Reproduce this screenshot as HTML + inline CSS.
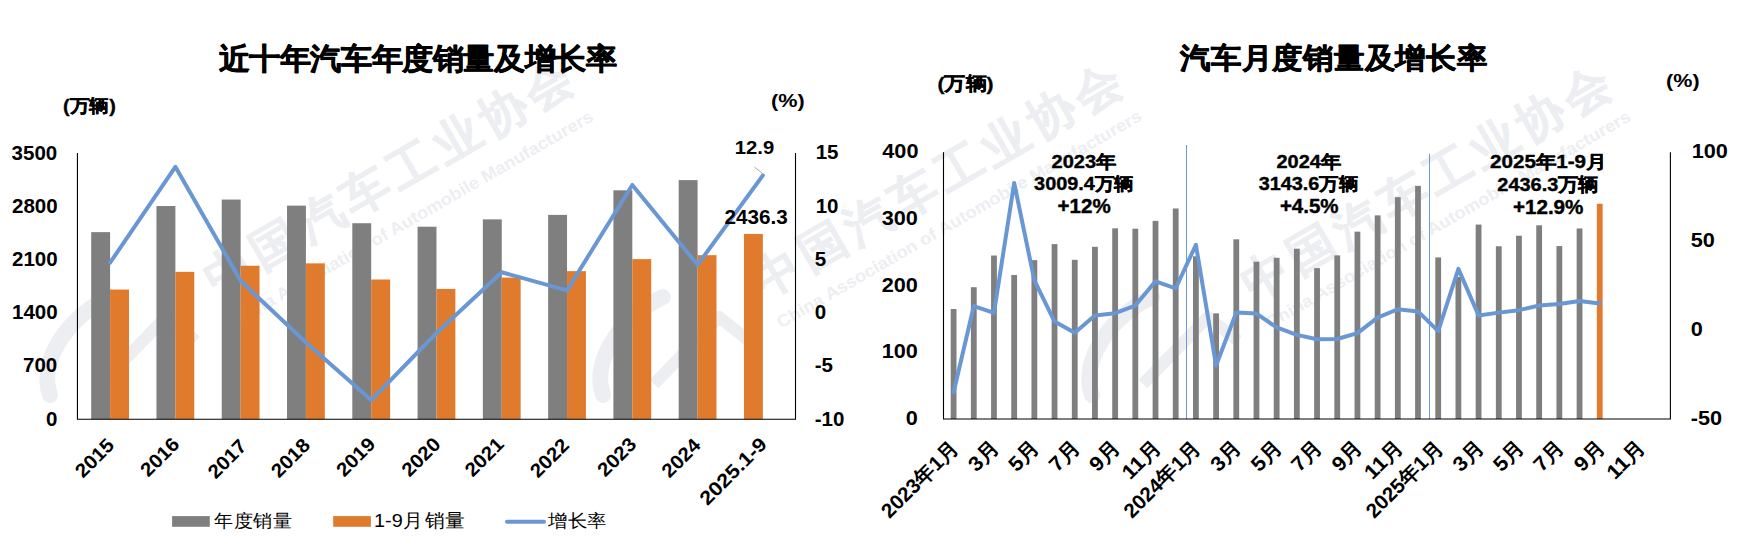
<!DOCTYPE html>
<html><head><meta charset="utf-8"><style>
html,body{margin:0;padding:0;background:#fff;}
svg{display:block;font-family:"Liberation Sans",sans-serif;}
</style></head><body>
<svg width="1762" height="554" viewBox="0 0 1762 554">
<g><text transform="translate(216.0,296.29999999999995) rotate(-30)" font-size="47" font-weight="bold" fill="#edeef2" stroke="#edeef2" stroke-width="0.6" textLength="417" lengthAdjust="spacing">中国汽车工业协会</text>
<text transform="translate(232.5,329) rotate(-30)" font-size="17" font-weight="bold" fill="#edeef2" textLength="418" lengthAdjust="spacingAndGlyphs">China Association of Automobile Manufacturers</text>
<path d="M50,395 C37,359 72,314 110,297" fill="none" stroke="#edeef2" stroke-width="16" stroke-linecap="round"/>
<path d="M101,384 L166,317 L196,341" fill="none" stroke="#edeef2" stroke-width="12" stroke-linejoin="round"/>
<text transform="translate(764.1,298.9) rotate(-30)" font-size="47" font-weight="bold" fill="#edeef2" stroke="#edeef2" stroke-width="0.6" textLength="417" lengthAdjust="spacing">中国汽车工业协会</text>
<text transform="translate(781,328.5) rotate(-30)" font-size="17" font-weight="bold" fill="#edeef2" textLength="418" lengthAdjust="spacingAndGlyphs">China Association of Automobile Manufacturers</text>
<path d="M603,395 C590,359 625,314 663,297" fill="none" stroke="#edeef2" stroke-width="16" stroke-linecap="round"/>
<path d="M654,384 L719,317 L749,341" fill="none" stroke="#edeef2" stroke-width="12" stroke-linejoin="round"/>
<text transform="translate(1253.3000000000002,301.4) rotate(-30)" font-size="47" font-weight="bold" fill="#edeef2" stroke="#edeef2" stroke-width="0.6" textLength="417" lengthAdjust="spacing">中国汽车工业协会</text>
<text transform="translate(1270,329) rotate(-30)" font-size="17" font-weight="bold" fill="#edeef2" textLength="418" lengthAdjust="spacingAndGlyphs">China Association of Automobile Manufacturers</text>
<path d="M1092,395 C1079,359 1114,314 1152,297" fill="none" stroke="#edeef2" stroke-width="16" stroke-linecap="round"/>
<path d="M1143,384 L1208,317 L1238,341" fill="none" stroke="#edeef2" stroke-width="12" stroke-linejoin="round"/></g>
<rect x="91.19" y="232.13" width="18.90" height="187.12" fill="#7f7f7f"/>
<rect x="156.47" y="206.04" width="18.90" height="213.21" fill="#7f7f7f"/>
<rect x="221.74" y="199.56" width="18.90" height="219.69" fill="#7f7f7f"/>
<rect x="287.02" y="205.63" width="18.90" height="213.62" fill="#7f7f7f"/>
<rect x="352.30" y="223.22" width="18.90" height="196.03" fill="#7f7f7f"/>
<rect x="417.57" y="226.71" width="18.90" height="192.54" fill="#7f7f7f"/>
<rect x="482.85" y="219.37" width="18.90" height="199.88" fill="#7f7f7f"/>
<rect x="548.13" y="214.89" width="18.90" height="204.36" fill="#7f7f7f"/>
<rect x="613.41" y="190.32" width="18.90" height="228.93" fill="#7f7f7f"/>
<rect x="678.68" y="180.11" width="18.90" height="239.14" fill="#7f7f7f"/>
<rect x="110.09" y="289.55" width="18.90" height="129.70" fill="#e07b2d"/>
<rect x="175.37" y="271.88" width="18.90" height="147.37" fill="#e07b2d"/>
<rect x="240.64" y="265.74" width="18.90" height="153.51" fill="#e07b2d"/>
<rect x="305.92" y="263.37" width="18.90" height="155.88" fill="#e07b2d"/>
<rect x="371.20" y="279.50" width="18.90" height="139.75" fill="#e07b2d"/>
<rect x="436.47" y="288.95" width="18.90" height="130.30" fill="#e07b2d"/>
<rect x="501.75" y="277.57" width="18.90" height="141.68" fill="#e07b2d"/>
<rect x="567.03" y="271.14" width="18.90" height="148.11" fill="#e07b2d"/>
<rect x="632.31" y="259.12" width="18.90" height="160.13" fill="#e07b2d"/>
<rect x="697.58" y="255.16" width="18.90" height="164.09" fill="#e07b2d"/>
<rect x="743.96" y="233.92" width="18.90" height="185.33" fill="#e07b2d"/>
<polyline points="110.09,262.70 175.37,166.84 240.64,280.80 305.92,342.57 371.20,400.08 436.47,332.99 501.75,272.28 567.03,290.38 632.31,184.95 697.58,264.83 762.86,175.37" fill="none" stroke="#6897d3" stroke-width="4" stroke-linejoin="round" stroke-linecap="round"/>
<path d="M77.45,153.0 V419.25 H795.5 V153.0" fill="none" stroke="#000" stroke-width="1.1"/>
<line x1="754.4" y1="167" x2="762.8" y2="173.8" stroke="#a6a6a6" stroke-width="1"/>
<rect x="950.70" y="309.01" width="5.80" height="109.99" fill="#7f7f7f"/>
<rect x="970.89" y="287.20" width="5.80" height="131.80" fill="#7f7f7f"/>
<rect x="991.08" y="255.52" width="5.80" height="163.48" fill="#7f7f7f"/>
<rect x="1011.27" y="274.99" width="5.80" height="144.01" fill="#7f7f7f"/>
<rect x="1031.46" y="260.12" width="5.80" height="158.88" fill="#7f7f7f"/>
<rect x="1051.65" y="244.11" width="5.80" height="174.89" fill="#7f7f7f"/>
<rect x="1071.85" y="259.79" width="5.80" height="159.21" fill="#7f7f7f"/>
<rect x="1092.04" y="246.78" width="5.80" height="172.22" fill="#7f7f7f"/>
<rect x="1112.23" y="228.37" width="5.80" height="190.63" fill="#7f7f7f"/>
<rect x="1132.42" y="228.70" width="5.80" height="190.30" fill="#7f7f7f"/>
<rect x="1152.61" y="220.90" width="5.80" height="198.10" fill="#7f7f7f"/>
<rect x="1172.80" y="208.49" width="5.80" height="210.51" fill="#7f7f7f"/>
<rect x="1193.00" y="256.32" width="5.80" height="162.68" fill="#7f7f7f"/>
<rect x="1213.19" y="313.35" width="5.80" height="105.65" fill="#7f7f7f"/>
<rect x="1233.38" y="239.31" width="5.80" height="179.69" fill="#7f7f7f"/>
<rect x="1253.57" y="261.65" width="5.80" height="157.35" fill="#7f7f7f"/>
<rect x="1273.76" y="257.79" width="5.80" height="161.21" fill="#7f7f7f"/>
<rect x="1293.95" y="248.71" width="5.80" height="170.29" fill="#7f7f7f"/>
<rect x="1314.15" y="268.12" width="5.80" height="150.88" fill="#7f7f7f"/>
<rect x="1334.34" y="255.38" width="5.80" height="163.62" fill="#7f7f7f"/>
<rect x="1354.53" y="231.64" width="5.80" height="187.36" fill="#7f7f7f"/>
<rect x="1374.72" y="215.36" width="5.80" height="203.64" fill="#7f7f7f"/>
<rect x="1394.91" y="197.16" width="5.80" height="221.84" fill="#7f7f7f"/>
<rect x="1415.10" y="185.88" width="5.80" height="233.12" fill="#7f7f7f"/>
<rect x="1435.30" y="257.39" width="5.80" height="161.61" fill="#7f7f7f"/>
<rect x="1455.49" y="277.00" width="5.80" height="142.00" fill="#7f7f7f"/>
<rect x="1475.68" y="224.57" width="5.80" height="194.43" fill="#7f7f7f"/>
<rect x="1495.87" y="246.25" width="5.80" height="172.75" fill="#7f7f7f"/>
<rect x="1516.06" y="235.71" width="5.80" height="183.29" fill="#7f7f7f"/>
<rect x="1536.25" y="225.30" width="5.80" height="193.70" fill="#7f7f7f"/>
<rect x="1556.45" y="246.05" width="5.80" height="172.95" fill="#7f7f7f"/>
<rect x="1576.64" y="228.44" width="5.80" height="190.56" fill="#7f7f7f"/>
<rect x="1596.83" y="203.76" width="5.80" height="215.24" fill="#e07b2d"/>
<line x1="1186.50" y1="145.0" x2="1186.50" y2="419.0" stroke="#6a9ad8" stroke-width="1"/>
<line x1="1429.50" y1="153.8" x2="1429.50" y2="419.0" stroke="#6a9ad8" stroke-width="1"/>
<polyline points="953.60,392.32 973.79,306.05 993.98,312.81 1014.17,182.97 1034.36,280.44 1054.55,321.53 1074.75,332.73 1094.94,315.48 1115.13,313.17 1135.32,305.52 1155.51,281.33 1175.70,288.27 1195.90,244.87 1216.09,365.46 1236.28,312.46 1256.47,313.53 1276.66,327.40 1296.85,334.87 1317.05,339.32 1337.24,338.96 1357.43,333.09 1377.62,317.62 1397.81,309.26 1418.00,311.39 1438.20,331.13 1458.39,268.88 1478.58,315.48 1498.77,312.64 1518.96,310.15 1539.15,305.52 1559.35,303.92 1579.54,300.90 1599.73,303.56" fill="none" stroke="#6897d3" stroke-width="4" stroke-linejoin="round" stroke-linecap="round"/>
<path d="M943.5,152.2 V419.0 H1670.4 V152.2" fill="none" stroke="#000" stroke-width="1.1"/>
<rect x="172.1" y="516.1" width="37.7" height="10.7" fill="#7f7f7f"/>
<rect x="333.2" y="516.1" width="37.7" height="10.7" fill="#e07b2d"/>
<line x1="507" y1="521.8" x2="544" y2="521.8" stroke="#6897d3" stroke-width="4" stroke-linecap="round"/>
<text id="tl_title" transform="translate(218.70,68.50) scale(1.0236,0.9839)" text-anchor="start" font-size="30" font-weight="bold" fill="#000"  stroke="#000" stroke-width="0.7" stroke-linejoin="round">近十年汽车年度销量及增长率</text>
<text id="tl_unit" transform="translate(63.10,111.60) scale(1.0135,0.9286)" text-anchor="start" font-size="19.5" font-weight="bold" fill="#000"  stroke="#000" stroke-width="0.4" stroke-linejoin="round">(万辆)</text>
<text id="tl_pct" transform="translate(771.00,106.70) scale(1.1103,0.9579)" text-anchor="start" font-size="19.5" font-weight="bold" fill="#000" >(%)</text>
<text id="tl_y0" transform="translate(11.60,159.50) scale(1.0810,1.0231)" text-anchor="start" font-size="19" font-weight="bold" fill="#000" >3500</text>
<text id="tl_y1" transform="translate(12.00,212.65) scale(1.0810,1.0231)" text-anchor="start" font-size="19" font-weight="bold" fill="#000" >2800</text>
<text id="tl_y2" transform="translate(12.00,265.90) scale(1.0810,1.0231)" text-anchor="start" font-size="19" font-weight="bold" fill="#000" >2100</text>
<text id="tl_y3" transform="translate(12.00,319.15) scale(1.0810,1.0231)" text-anchor="start" font-size="19" font-weight="bold" fill="#000" >1400</text>
<text id="tl_y4" transform="translate(23.00,372.40) scale(1.0810,1.0231)" text-anchor="start" font-size="19" font-weight="bold" fill="#000" >700</text>
<text id="tl_y5" transform="translate(46.00,425.65) scale(1.0810,1.0231)" text-anchor="start" font-size="19" font-weight="bold" fill="#000" >0</text>
<text id="tl_r0" transform="translate(815.70,159.40) scale(1.0810,1.0231)" text-anchor="start" font-size="19" font-weight="bold" fill="#000" >15</text>
<text id="tl_r1" transform="translate(815.70,212.65) scale(1.0810,1.0231)" text-anchor="start" font-size="19" font-weight="bold" fill="#000" >10</text>
<text id="tl_r2" transform="translate(814.70,265.90) scale(1.0810,1.0231)" text-anchor="start" font-size="19" font-weight="bold" fill="#000" >5</text>
<text id="tl_r3" transform="translate(814.70,319.15) scale(1.0810,1.0231)" text-anchor="start" font-size="19" font-weight="bold" fill="#000" >0</text>
<text id="tl_r4" transform="translate(814.70,372.40) scale(1.0810,1.0231)" text-anchor="start" font-size="19" font-weight="bold" fill="#000" >-5</text>
<text id="tl_r5" transform="translate(814.70,425.65) scale(1.0810,1.0231)" text-anchor="start" font-size="19" font-weight="bold" fill="#000" >-10</text>
<text id="tl_x0" transform="translate(115.39,446.50) rotate(-45) scale(1.0810,1.0231)" text-anchor="end" font-size="19" font-weight="bold" fill="#000" >2015</text>
<text id="tl_x1" transform="translate(180.67,445.50) rotate(-45) scale(1.0810,1.0231)" text-anchor="end" font-size="19" font-weight="bold" fill="#000" >2016</text>
<text id="tl_x2" transform="translate(247.94,447.50) rotate(-45) scale(1.0810,1.0231)" text-anchor="end" font-size="19" font-weight="bold" fill="#000" >2017</text>
<text id="tl_x3" transform="translate(311.22,446.50) rotate(-45) scale(1.0810,1.0231)" text-anchor="end" font-size="19" font-weight="bold" fill="#000" >2018</text>
<text id="tl_x4" transform="translate(376.50,445.50) rotate(-45) scale(1.0810,1.0231)" text-anchor="end" font-size="19" font-weight="bold" fill="#000" >2019</text>
<text id="tl_x5" transform="translate(441.77,445.50) rotate(-45) scale(1.0810,1.0231)" text-anchor="end" font-size="19" font-weight="bold" fill="#000" >2020</text>
<text id="tl_x6" transform="translate(505.05,445.50) rotate(-45) scale(1.0810,1.0231)" text-anchor="end" font-size="19" font-weight="bold" fill="#000" >2021</text>
<text id="tl_x7" transform="translate(570.33,446.50) rotate(-45) scale(1.0810,1.0231)" text-anchor="end" font-size="19" font-weight="bold" fill="#000" >2022</text>
<text id="tl_x8" transform="translate(637.61,445.50) rotate(-45) scale(1.0810,1.0231)" text-anchor="end" font-size="19" font-weight="bold" fill="#000" >2023</text>
<text id="tl_x9" transform="translate(701.88,446.50) rotate(-45) scale(1.0810,1.0231)" text-anchor="end" font-size="19" font-weight="bold" fill="#000" >2024</text>
<text id="tl_x10" transform="translate(768.16,445.50) rotate(-45) scale(1.1458,1.0231)" text-anchor="end" font-size="19" font-weight="bold" fill="#000" >2025.1-9</text>
<text id="tl_d1" transform="translate(734.80,154.30) scale(1.0667,1.0154)" text-anchor="start" font-size="19" font-weight="bold" fill="#000" >12.9</text>
<text id="tl_d2" transform="translate(724.50,223.80) scale(1.0897,1.1077)" text-anchor="start" font-size="19" font-weight="bold" fill="#000" >2436.3</text>
<text id="lg1" transform="translate(214.30,527.30) scale(0.9900,0.9300)" text-anchor="start" font-size="19.5" font-weight="normal" fill="#000" >年度销量</text>
<text id="lg2" transform="translate(374.00,527.30) scale(1.0189,0.9789)" text-anchor="start" font-size="19.5" font-weight="normal" fill="#000" >1-9月 销量</text>
<text id="lg3" transform="translate(548.10,527.30) scale(1.0017,0.9300)" text-anchor="start" font-size="19.5" font-weight="normal" fill="#000" >增长率</text>
<text id="tr_title" transform="translate(1180.30,68.00) scale(1.0193,0.9710)" text-anchor="start" font-size="30" font-weight="bold" fill="#000"  stroke="#000" stroke-width="0.7" stroke-linejoin="round">汽车月度销量及增长率</text>
<text id="tr_unit" transform="translate(937.50,89.50) scale(1.0769,0.9667)" text-anchor="start" font-size="19.5" font-weight="bold" fill="#000"  stroke="#000" stroke-width="0.4" stroke-linejoin="round">(万辆)</text>
<text id="tr_pct" transform="translate(1666.10,86.50) scale(1.1034,0.9632)" text-anchor="start" font-size="19.5" font-weight="bold" fill="#000" >(%)</text>
<text id="tr_y0" transform="translate(882.30,158.00) scale(1.1419,1.0769)" text-anchor="start" font-size="19" font-weight="bold" fill="#000" >400</text>
<text id="tr_y1" transform="translate(881.70,224.90) scale(1.1419,1.0769)" text-anchor="start" font-size="19" font-weight="bold" fill="#000" >300</text>
<text id="tr_y2" transform="translate(881.70,291.60) scale(1.1419,1.0769)" text-anchor="start" font-size="19" font-weight="bold" fill="#000" >200</text>
<text id="tr_y3" transform="translate(881.70,358.30) scale(1.1419,1.0769)" text-anchor="start" font-size="19" font-weight="bold" fill="#000" >100</text>
<text id="tr_y4" transform="translate(905.70,425.00) scale(1.1419,1.0769)" text-anchor="start" font-size="19" font-weight="bold" fill="#000" >0</text>
<text id="tr_r0" transform="translate(1691.70,158.20) scale(1.1419,1.0769)" text-anchor="start" font-size="19" font-weight="bold" fill="#000" >100</text>
<text id="tr_r1" transform="translate(1690.70,247.13) scale(1.1419,1.0769)" text-anchor="start" font-size="19" font-weight="bold" fill="#000" >50</text>
<text id="tr_r2" transform="translate(1690.70,336.07) scale(1.1419,1.0769)" text-anchor="start" font-size="19" font-weight="bold" fill="#000" >0</text>
<text id="tr_r3" transform="translate(1690.70,425.00) scale(1.1419,1.0769)" text-anchor="start" font-size="19" font-weight="bold" fill="#000" >-50</text>
<text id="ta00" transform="translate(1051.50,168.00) scale(1.0557,0.9316)" text-anchor="start" font-size="19" font-weight="bold" fill="#000"  stroke="#000" stroke-width="0.4" stroke-linejoin="round">2023年</text>
<text id="ta01" transform="translate(1034.10,190.30) scale(1.0448,0.9684)" text-anchor="start" font-size="19" font-weight="bold" fill="#000"  stroke="#000" stroke-width="0.4" stroke-linejoin="round">3009.4万辆</text>
<text id="ta02" transform="translate(1057.60,213.10) scale(1.0816,1.1000)" text-anchor="start" font-size="19" font-weight="bold" fill="#000"  stroke="#000" stroke-width="0.4" stroke-linejoin="round">+12%</text>
<text id="ta10" transform="translate(1276.40,168.00) scale(1.0525,0.9316)" text-anchor="start" font-size="19" font-weight="bold" fill="#000"  stroke="#000" stroke-width="0.4" stroke-linejoin="round">2024年</text>
<text id="ta11" transform="translate(1258.70,190.30) scale(1.0448,0.9684)" text-anchor="start" font-size="19" font-weight="bold" fill="#000"  stroke="#000" stroke-width="0.4" stroke-linejoin="round">3143.6万辆</text>
<text id="ta12" transform="translate(1279.90,213.10) scale(1.0796,1.1000)" text-anchor="start" font-size="19" font-weight="bold" fill="#000"  stroke="#000" stroke-width="0.4" stroke-linejoin="round">+4.5%</text>
<text id="ta20" transform="translate(1489.90,168.00) scale(1.0886,0.9474)" text-anchor="start" font-size="19" font-weight="bold" fill="#000"  stroke="#000" stroke-width="0.4" stroke-linejoin="round">2025年1-9月</text>
<text id="ta21" transform="translate(1497.30,191.10) scale(1.0500,0.9789)" text-anchor="start" font-size="19" font-weight="bold" fill="#000"  stroke="#000" stroke-width="0.4" stroke-linejoin="round">2436.3万辆</text>
<text id="ta22" transform="translate(1512.90,213.50) scale(1.0862,1.0462)" text-anchor="start" font-size="19" font-weight="bold" fill="#000"  stroke="#000" stroke-width="0.4" stroke-linejoin="round">+12.9%</text>
<text id="tr_x0" transform="translate(959.90,448.90) rotate(-45) scale(1.0848,1.0769)" text-anchor="end" font-size="19" font-weight="bold" fill="#000" >2023年1月</text>
<text id="tr_x2" transform="translate(1000.28,448.90) rotate(-45) scale(1.1419,1.0769)" text-anchor="end" font-size="19" font-weight="bold" fill="#000" >3月</text>
<text id="tr_x4" transform="translate(1040.66,448.90) rotate(-45) scale(1.1419,1.0769)" text-anchor="end" font-size="19" font-weight="bold" fill="#000" >5月</text>
<text id="tr_x6" transform="translate(1081.05,448.90) rotate(-45) scale(1.1419,1.0769)" text-anchor="end" font-size="19" font-weight="bold" fill="#000" >7月</text>
<text id="tr_x8" transform="translate(1121.43,448.90) rotate(-45) scale(1.1419,1.0769)" text-anchor="end" font-size="19" font-weight="bold" fill="#000" >9月</text>
<text id="tr_x10" transform="translate(1161.81,448.90) rotate(-45) scale(1.1419,1.0769)" text-anchor="end" font-size="19" font-weight="bold" fill="#000" >11月</text>
<text id="tr_x12" transform="translate(1202.20,448.90) rotate(-45) scale(1.0848,1.0769)" text-anchor="end" font-size="19" font-weight="bold" fill="#000" >2024年1月</text>
<text id="tr_x14" transform="translate(1242.58,448.90) rotate(-45) scale(1.1419,1.0769)" text-anchor="end" font-size="19" font-weight="bold" fill="#000" >3月</text>
<text id="tr_x16" transform="translate(1282.96,448.90) rotate(-45) scale(1.1419,1.0769)" text-anchor="end" font-size="19" font-weight="bold" fill="#000" >5月</text>
<text id="tr_x18" transform="translate(1323.35,448.90) rotate(-45) scale(1.1419,1.0769)" text-anchor="end" font-size="19" font-weight="bold" fill="#000" >7月</text>
<text id="tr_x20" transform="translate(1363.73,448.90) rotate(-45) scale(1.1419,1.0769)" text-anchor="end" font-size="19" font-weight="bold" fill="#000" >9月</text>
<text id="tr_x22" transform="translate(1404.11,448.90) rotate(-45) scale(1.1419,1.0769)" text-anchor="end" font-size="19" font-weight="bold" fill="#000" >11月</text>
<text id="tr_x24" transform="translate(1444.50,448.90) rotate(-45) scale(1.0848,1.0769)" text-anchor="end" font-size="19" font-weight="bold" fill="#000" >2025年1月</text>
<text id="tr_x26" transform="translate(1484.88,448.90) rotate(-45) scale(1.1419,1.0769)" text-anchor="end" font-size="19" font-weight="bold" fill="#000" >3月</text>
<text id="tr_x28" transform="translate(1525.26,448.90) rotate(-45) scale(1.1419,1.0769)" text-anchor="end" font-size="19" font-weight="bold" fill="#000" >5月</text>
<text id="tr_x30" transform="translate(1565.65,448.90) rotate(-45) scale(1.1419,1.0769)" text-anchor="end" font-size="19" font-weight="bold" fill="#000" >7月</text>
<text id="tr_x32" transform="translate(1606.03,448.90) rotate(-45) scale(1.1419,1.0769)" text-anchor="end" font-size="19" font-weight="bold" fill="#000" >9月</text>
<text id="tr_x34" transform="translate(1646.41,448.90) rotate(-45) scale(1.1419,1.0769)" text-anchor="end" font-size="19" font-weight="bold" fill="#000" >11月</text>
</svg></body></html>
